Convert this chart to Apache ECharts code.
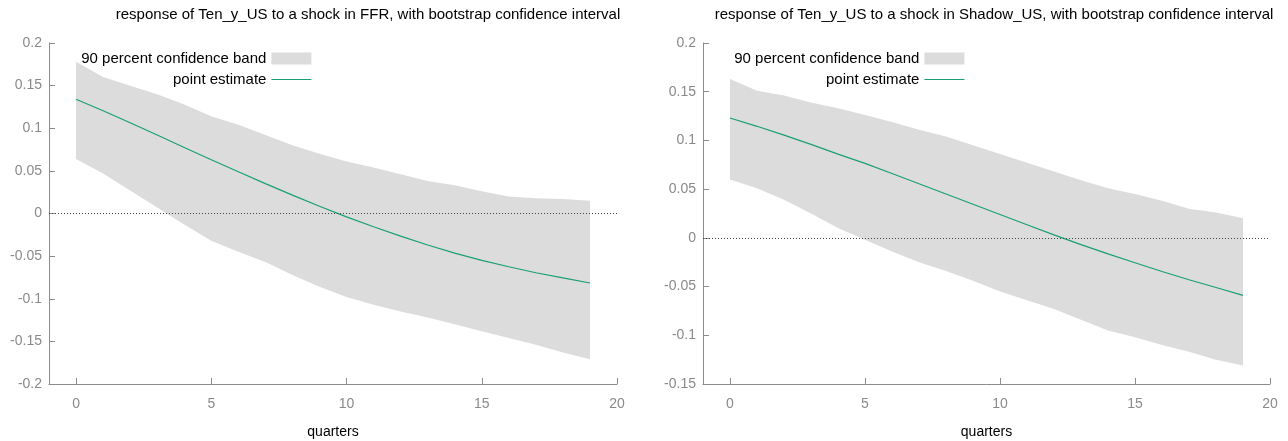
<!DOCTYPE html>
<html>
<head>
<meta charset="utf-8">
<script src="https://cdn.jsdelivr.net/npm/echarts@6/dist/echarts.min.js"></script>
<style>
html,body{margin:0;padding:0;background:#fff;}
#c{width:1288px;height:441px;}
</style>
</head>
<body>
<div id="c"></div>
<script>
const quarters = [0,1,2,3,4,5,6,7,8,9,10,11,12,13,14,15,16,17,18,19];
const xTicks = [0,5,10,15,20];

const titleFFR = 'response of Ten_y_US to a shock in FFR, with bootstrap confidence interval';
const titleShadow = 'response of Ten_y_US to a shock in Shadow_US, with bootstrap confidence interval';

const ffrPoint = [0.134,0.1205,0.1065,0.092,0.0775,0.063,0.049,0.035,0.0215,0.0085,-0.004,-0.0155,-0.0265,-0.037,-0.0465,-0.055,-0.0625,-0.0695,-0.0755,-0.0815];
const ffrUpper = [0.178,0.160,0.150,0.140,0.128,0.114,0.104,0.092,0.080,0.070,0.061,0.054,0.046,0.038,0.033,0.026,0.020,0.018,0.017,0.015];
const ffrLower = [0.064,0.047,0.027,0.007,-0.013,-0.032,-0.045,-0.057,-0.072,-0.086,-0.098,-0.107,-0.115,-0.122,-0.130,-0.138,-0.146,-0.154,-0.163,-0.171];

const shPoint = [0.123,0.1145,0.1055,0.096,0.086,0.0765,0.066,0.0555,0.045,0.0345,0.024,0.0135,0.003,-0.007,-0.0165,-0.0255,-0.0345,-0.043,-0.051,-0.059];
const shUpper = [0.163,0.151,0.146,0.139,0.133,0.126,0.119,0.111,0.104,0.095,0.086,0.077,0.068,0.059,0.051,0.045,0.038,0.030,0.026,0.020];
const shLower = [0.060,0.051,0.039,0.025,0.010,-0.002,-0.014,-0.025,-0.034,-0.044,-0.055,-0.064,-0.073,-0.084,-0.095,-0.102,-0.110,-0.117,-0.125,-0.131];

const bandName = '90 percent confidence band';
const lineName = 'point estimate';

const GREEN = '#1a9e76';
const BAND = '#dcdcdc';
const AXIS = '#8c8c8c';
const LABEL = '#8a8a8a';
const FONT = '"Liberation Sans", Arial, sans-serif';

function pairs(y){ return quarters.map((q,i)=>[q,y[i]]); }

function xAxisCfg(gi){
  return {
    type:'value', gridIndex:gi, min:-1, max:20,
    name:'quarters', nameLocation:'middle', nameGap:41,
    nameTextStyle:{color:'#000', fontSize:14, fontFamily:FONT},
    axisLine:{show:true, onZero:false, lineStyle:{color:AXIS, width:1}},
    axisTick:{show:true, inside:true, length:6, customValues:xTicks, lineStyle:{color:AXIS}},
    axisLabel:{customValues:xTicks, color:LABEL, fontSize:14, fontFamily:FONT, margin:13},
    splitLine:{show:false}
  };
}
function yAxisCfg(gi, min, max){
  return {
    type:'value', gridIndex:gi, min:min, max:max, interval:0.05,
    axisLine:{show:true, onZero:false, lineStyle:{color:AXIS, width:1}},
    axisTick:{show:true, inside:true, length:6, lineStyle:{color:AXIS}},
    axisLabel:{color:LABEL, fontSize:14, fontFamily:FONT, margin:7,
      formatter:v=>String(Math.round(v*100)/100)},
    splitLine:{show:false}
  };
}
function panelSeries(gi, lower, upper, point){
  return [
    {type:'custom', name:bandName, xAxisIndex:gi, yAxisIndex:gi, color:BAND,
     data:quarters.map((q,i)=>[q, lower[i], upper[i]]),
     itemStyle:{color:BAND}, silent:true, z:1,
     encode:{x:0, y:[1,2]},
     renderItem:function(params, api){
       if (params.dataIndex !== 0) return null;
       const top = quarters.map((q,i)=>api.coord([q, upper[i]]));
       const bot = quarters.map((q,i)=>api.coord([q, lower[i]])).reverse();
       return {type:'polygon', shape:{points:top.concat(bot)}, style:{fill:BAND, stroke:null}};
     },
     markLine:{silent:true, symbol:'none', label:{show:false},
       lineStyle:{color:'#444', type:[1,2], width:1},
       data:[[{coord:[-1,0]},{coord:[20,0]}]]}},
    {type:'line', name:lineName, xAxisIndex:gi, yAxisIndex:gi, data:pairs(point), color:GREEN,
     symbol:'none', showSymbol:false, lineStyle:{color:GREEN, width:1.2}, itemStyle:{color:GREEN}, z:3}
  ];
}
function legendCfg(right){
  return {
    orient:'vertical', right:right, top:51, align:'right', itemGap:6,
    itemWidth:40, itemHeight:12, padding:0,
    lineStyle:{color:GREEN, width:1.2},
    textStyle:{color:'#000', fontSize:15, fontFamily:FONT},
    data:[
      {name:bandName, icon:'rect', itemStyle:{color:BAND, borderWidth:0}},
      {name:lineName, itemStyle:{opacity:0}, lineStyle:{color:GREEN, width:1.2, opacity:1}}
    ]
  };
}

const chart = echarts.init(document.getElementById('c'), null, {renderer:'canvas'});
chart.setOption({
  animation:false,
  backgroundColor:'#fff',
  color:[BAND, GREEN],
  title:[
    {text:titleFFR, left:363, top:2, textAlign:'center', textStyle:{color:'#000', fontSize:15, fontWeight:'normal', fontFamily:FONT}},
    {text:titleShadow, left:989, top:2, textAlign:'center', textStyle:{color:'#000', fontSize:15, fontWeight:'normal', fontFamily:FONT}}
  ],
  legend:[ legendCfg(976), legendCfg(323) ],
  grid:[
    {left:49, top:43, width:568, height:341, containLabel:false, outerBoundsMode:'none'},
    {left:703, top:43, width:567, height:341, containLabel:false, outerBoundsMode:'none'}
  ],
  xAxis:[xAxisCfg(0), xAxisCfg(1)],
  yAxis:[yAxisCfg(0,-0.2,0.2), yAxisCfg(1,-0.15,0.2)],
  series:[...panelSeries(0, ffrLower, ffrUpper, ffrPoint), ...panelSeries(1, shLower, shUpper, shPoint)]
});
</script>
</body>
</html>
